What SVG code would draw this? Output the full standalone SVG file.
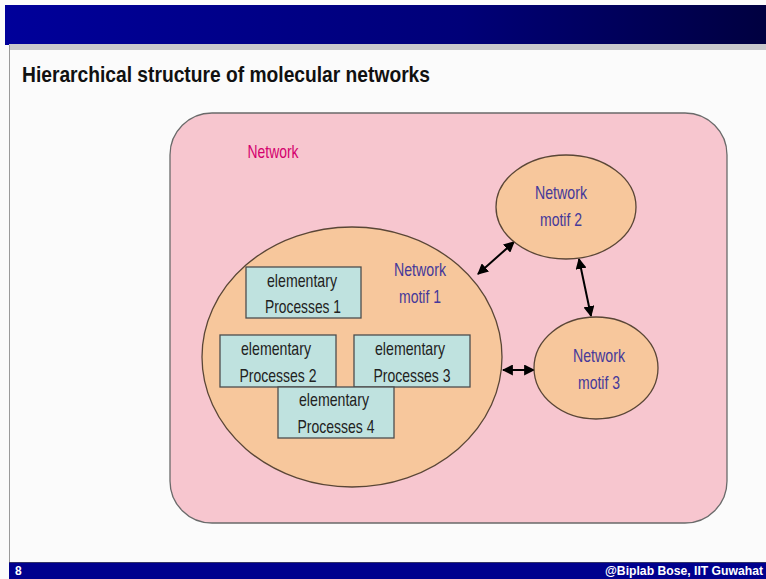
<svg xmlns="http://www.w3.org/2000/svg" width="766" height="579" viewBox="0 0 766 579">
<defs>
<linearGradient id="hdr" x1="0" y1="0" x2="1" y2="0">
<stop offset="0" stop-color="#00009a"/>
<stop offset="0.6" stop-color="#000078"/>
<stop offset="1" stop-color="#000040"/>
</linearGradient>
<marker id="ah" viewBox="0 0 10 10" refX="9" refY="5" markerWidth="5.5" markerHeight="5.5" orient="auto-start-reverse">
<path d="M0,0 L10,5 L0,10 z" fill="#000"/>
</marker>
<style>
.motif{fill:#f7c79c;stroke:#5a4636;stroke-width:1.3}
.ep{fill:#bfe2df;stroke:#4d4d4d;stroke-width:1.3}
.t{font-family:"Liberation Sans",Arial,sans-serif;font-size:19px;text-anchor:middle}
.mt{fill:#45399a}
.et{fill:#222}
.conn{stroke:#000;stroke-width:2;fill:none;marker-start:url(#ah);marker-end:url(#ah)}
</style>
</defs>
<rect width="766" height="579" fill="#fbfbfb"/>
<rect x="5" y="5" width="761" height="40" fill="url(#hdr)"/>
<rect x="9" y="44" width="757" height="6" fill="#c8c8cc"/>
<line x1="9.5" y1="45" x2="9.5" y2="563" stroke="#9a9a9a" stroke-width="1"/>
<rect x="9" y="562" width="757" height="17" fill="#00008e"/>
<line x1="9" y1="562.5" x2="766" y2="562.5" stroke="#333366" stroke-width="1"/>
<text x="22" y="82" font-family="Liberation Sans,Arial,sans-serif" font-weight="bold" font-size="22" fill="#111" textLength="408" lengthAdjust="spacingAndGlyphs">Hierarchical structure of molecular networks</text>
<text x="15" y="575" font-family="Liberation Sans,Arial,sans-serif" font-weight="bold" font-size="12" fill="#fff">8</text>
<text x="763" y="575" font-family="Liberation Sans,Arial,sans-serif" font-weight="bold" font-size="12" fill="#fff" text-anchor="end" textLength="158" lengthAdjust="spacingAndGlyphs">@Biplab Bose, IIT Guwahat</text>

<g id="network">
<rect x="170" y="113" width="557" height="410" rx="42" ry="42" fill="#f7c6cf" stroke="#6a6a6a" stroke-width="1.3"/>
<text x="273" y="158" class="t" fill="#d4006e" textLength="51" lengthAdjust="spacingAndGlyphs">Network</text>
</g>

<g id="connectors">
<line class="conn" x1="478" y1="274" x2="514" y2="242"/>
<line class="conn" x1="579" y1="259" x2="591" y2="316"/>
<line class="conn" x1="503" y1="370" x2="534" y2="370" stroke-width="2.6"/>
</g>

<g id="motif1">
<ellipse class="motif" cx="352" cy="357" rx="150" ry="130"/>
<text class="t mt" x="420" y="276" textLength="52" lengthAdjust="spacingAndGlyphs">Network</text>
<text class="t mt" x="420" y="303" textLength="42" lengthAdjust="spacingAndGlyphs">motif 1</text>
</g>

<g id="motif2">
<ellipse class="motif" cx="566" cy="207" rx="70" ry="52"/>
<text class="t mt" x="561" y="199" textLength="52" lengthAdjust="spacingAndGlyphs">Network</text>
<text class="t mt" x="561" y="226" textLength="42" lengthAdjust="spacingAndGlyphs">motif 2</text>
</g>

<g id="motif3">
<ellipse class="motif" cx="596" cy="368" rx="62" ry="51"/>
<text class="t mt" x="599" y="362" textLength="52" lengthAdjust="spacingAndGlyphs">Network</text>
<text class="t mt" x="599" y="389" textLength="42" lengthAdjust="spacingAndGlyphs">motif 3</text>
</g>

<g id="ep1">
<rect class="ep" x="246" y="267" width="115" height="51"/>
<text class="t et" x="302" y="287" textLength="70" lengthAdjust="spacingAndGlyphs">elementary</text>
<text class="t et" x="303" y="313" textLength="76" lengthAdjust="spacingAndGlyphs">Processes 1</text>
</g>

<g id="ep2">
<rect class="ep" x="220" y="335" width="116" height="52"/>
<text class="t et" x="276" y="355" textLength="70" lengthAdjust="spacingAndGlyphs">elementary</text>
<text class="t et" x="278" y="382" textLength="77" lengthAdjust="spacingAndGlyphs">Processes 2</text>
</g>

<g id="ep3">
<rect class="ep" x="354" y="335" width="116" height="52"/>
<text class="t et" x="410" y="355" textLength="70" lengthAdjust="spacingAndGlyphs">elementary</text>
<text class="t et" x="412" y="382" textLength="77" lengthAdjust="spacingAndGlyphs">Processes 3</text>
</g>

<g id="ep4">
<rect class="ep" x="278" y="387" width="116" height="51"/>
<text class="t et" x="334" y="406" textLength="70" lengthAdjust="spacingAndGlyphs">elementary</text>
<text class="t et" x="336" y="433" textLength="77" lengthAdjust="spacingAndGlyphs">Processes 4</text>
</g>
</svg>
